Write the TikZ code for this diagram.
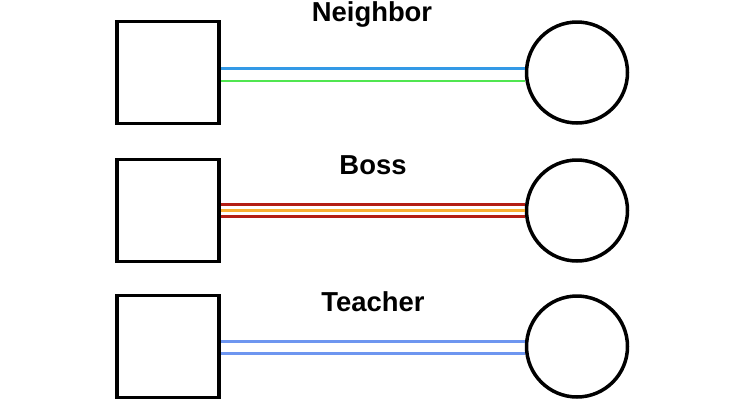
\documentclass[tikz,border=0pt]{standalone}
\usepackage{fontspec}
\setmainfont{Liberation Sans}
\usetikzlibrary{positioning}

\definecolor{lineblue}{RGB}{51,153,230}
\definecolor{linegreen}{RGB}{80,230,80}
\definecolor{darkred}{RGB}{180,30,20}
\definecolor{lineorange}{RGB}{250,175,50}
\definecolor{lightblue}{RGB}{110,150,240}

\tikzset{
  person/.style={draw=black, line width=2pt, fill=white, minimum size=2.04cm, inner sep=0pt},
  other/.style={circle, draw=black, line width=2pt, fill=white, minimum size=2.02cm, inner sep=0pt},
  role/.style={font=\fontsize{15.6}{18}\selectfont\bfseries, inner sep=0pt},
  tie/.style={line width=1.7pt}
}

\begin{document}
\begin{tikzpicture}[x=0.02cm, y=-0.02cm]
\useasboundingbox (0,0) rectangle (750,400);

% draw rows
\node[person] (sq1) at (168,72.5) {};
\node[other] (ci1) at (577,72.5) {};
\node[person] (sq2) at (168,210.5) {};
\node[other] (ci2) at (577,210.5) {};
\node[person] (sq3) at (168,346.5) {};
\node[other] (ci3) at (577,346.5) {};

% draw labels
\node[role] (lab1) at (372,14) {Neighbor};
\node[role] (lab2) at (373,165) {Boss};
\node[role] (lab3) at (373,302) {Teacher};

% draw ties
\draw[tie, lineblue] ([yshift=0.09cm]sq1.east) -- ([yshift=0.09cm]ci1.west);
\draw[tie, linegreen] ([yshift=-0.17cm]sq1.east) -- ([yshift=-0.17cm]ci1.west);

\draw[tie, darkred] ([yshift=0.12cm]sq2.east) -- ([yshift=0.12cm]ci2.west);
\draw[tie, lineorange] ([yshift=0.01cm]sq2.east) -- ([yshift=0.01cm]ci2.west);
\draw[tie, darkred] ([yshift=-0.11cm]sq2.east) -- ([yshift=-0.11cm]ci2.west);

\draw[tie, lightblue] ([yshift=0.11cm]sq3.east) -- ([yshift=0.11cm]ci3.west);
\draw[tie, lightblue] ([yshift=-0.13cm]sq3.east) -- ([yshift=-0.13cm]ci3.west);
\end{tikzpicture}
\end{document}
